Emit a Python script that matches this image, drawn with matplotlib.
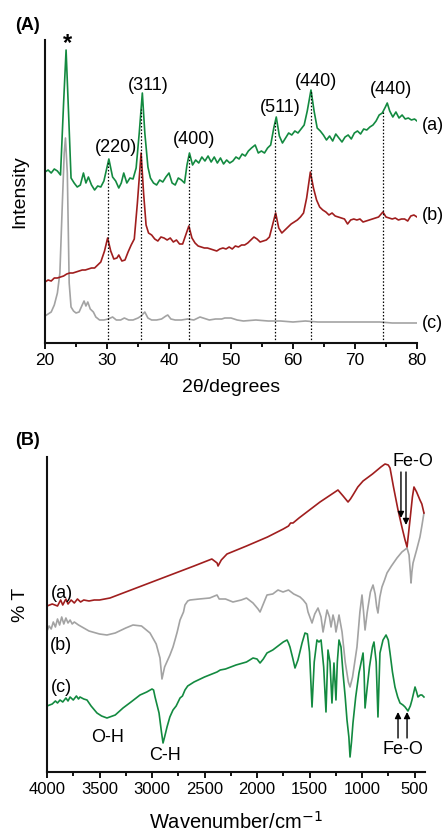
import matplotlib
matplotlib.use('Agg')
from matplotlib import pyplot as plt
from matplotlib.ticker import MultipleLocator
import numpy as np

plt.rcParams['font.family'] = ['Liberation Sans', 'DejaVu Sans']

# ---- (A) XRD data, 2theta (deg) vs intensity (a.u.) ----
xrd_a_theta = [20, 20.5, 21, 21.5, 22, 22.5, 23.0, 23.4, 23.8, 24.2, 24.7, 25.2, 25.7, 26.2, 26.6, 27.0,
               27.5, 28.0, 28.5, 29.0, 29.5, 30.3, 30.9, 31.4, 31.9, 32.3, 32.7, 33.2, 33.7, 34.2, 34.7,
               35.2, 35.7, 36.1, 36.6, 37.0, 37.5, 38.0, 38.5, 39.0, 39.5, 40.0, 40.5, 41.0, 41.5, 42.0,
               42.5, 42.9, 43.3, 43.8, 44.3, 44.8, 45.3, 45.8, 46.3, 46.8, 47.3, 47.8, 48.3, 48.8, 49.3,
               49.8, 50.3, 50.8, 51.3, 51.8, 52.3, 52.8, 53.3, 53.9, 54.4, 54.9, 55.4, 55.9, 56.4, 56.9,
               57.3, 57.8, 58.3, 58.8, 59.3, 59.8, 60.3, 60.8, 61.3, 61.8, 62.3, 62.9, 63.4, 63.9, 64.4,
               64.9, 65.4, 65.9, 66.4, 66.9, 67.4, 67.9, 68.4, 68.9, 69.4, 69.9, 70.4, 70.9, 71.4, 71.9,
               72.4, 72.9, 73.4, 73.9, 74.4, 74.9, 75.2, 75.6, 76.1, 76.6, 77.1, 77.6, 78.1, 78.6, 79.1,
               79.6, 80.0]
xrd_a_int = [171, 173, 170, 174, 172, 168, 240, 293, 230, 165, 160, 156, 158, 170, 160, 166,
             158, 153, 157, 156, 162, 184, 166, 162, 155, 160, 170, 160, 165, 164, 175,
             210, 250, 210, 176, 165, 160, 158, 163, 161, 166, 170, 160, 158, 165, 163,
             160, 178, 190, 178, 183, 180, 186, 182, 187, 181, 186, 180, 185, 179, 183,
             180, 182, 186, 184, 189, 187, 192, 195, 198, 190, 192, 190, 195, 198, 215,
             226, 207, 200, 205, 210, 208, 212, 210, 214, 218, 232, 253, 232, 215, 212,
             208, 203, 207, 202, 209, 205, 201, 206, 208, 204, 210, 212, 209, 214, 213,
             216, 218, 222, 228, 230, 236, 240, 232, 226, 231, 225, 228, 224, 225, 223,
             224, 222]

xrd_b_theta = [20, 20.5, 21, 21.5, 22, 22.5, 23, 23.5, 24, 24.5, 25, 25.5, 26, 26.5, 27, 27.5, 28,
               28.5, 29, 29.6, 30.1, 30.6, 31.1, 31.6, 31.9, 32.4, 32.9, 33.4, 33.9, 34.4, 34.9, 35.5,
               35.9, 36.3, 36.7, 37.2, 37.7, 38.2, 38.7, 39.2, 39.7, 40.2, 40.7, 41.2, 41.7, 42.2, 42.7,
               43.2, 43.7, 44.2, 44.7, 45.2, 45.7, 46.2, 46.7, 47.2, 47.7, 48.2, 48.7, 49.2, 49.7, 50.2,
               50.7, 51.2, 51.7, 52.2, 52.7, 53.2, 53.7, 54.2, 54.7, 55.2, 55.7, 56.2, 56.7, 57.2, 57.7,
               58.2, 58.7, 59.2, 59.7, 60.2, 60.7, 61.2, 61.7, 62.2, 62.8, 63.3, 63.8, 64.3, 64.8, 65.3,
               65.8, 66.3, 66.8, 67.3, 67.8, 68.3, 68.8, 69.3, 69.8, 70.3, 70.8, 71.3, 71.8, 72.3, 72.8,
               73.3, 73.8, 74.5, 75.0, 75.5, 76.0, 76.5, 77.0, 77.5, 78.0, 78.5, 79.0, 79.5, 80.0]
xrd_b_int = [61, 63, 62, 65, 65, 66, 67, 69, 70, 70, 71, 72, 73, 73, 74, 75, 75,
             78, 81, 92, 105, 92, 84, 85, 88, 82, 83, 91, 98, 104, 140, 190,
             150, 118, 110, 108, 104, 102, 106, 105, 103, 105, 101, 103, 99, 99, 108,
             117, 105, 100, 97, 96, 95, 95, 94, 93, 92, 94, 95, 94, 96, 94,
             97, 96, 98, 98, 100, 103, 106, 104, 101, 102, 103, 106, 118, 130, 115,
             110, 113, 116, 119, 121, 123, 126, 130, 145, 171, 155, 143, 136, 133, 131,
             128, 130, 127, 126, 125, 124, 119, 123, 124, 123, 124, 121, 122, 123, 124,
             125, 126, 131, 126, 125, 124, 125, 123, 124, 124, 122, 127, 128, 126]

xrd_c_theta = [20, 20.5, 21, 21.5, 22, 22.4, 22.8, 23.1, 23.3, 23.6, 23.9, 24.2, 24.6, 25.0, 25.5,
               26.0, 26.3, 26.6, 26.9, 27.3, 27.8, 28.2, 28.8, 29.5, 30.2, 30.9, 31.5, 32.2, 32.8,
               33.5, 34.2, 35.0, 35.5, 36.1, 36.6, 37.2, 38.0, 38.8, 39.5, 39.8, 40.3, 41.0, 42.0,
               43.0, 44.0, 45.0, 45.5, 46.5, 47.5, 48.5, 49.0, 50.0, 51.0, 52.0, 54.0, 56.0, 58.0,
               60.0, 62.0, 64.0, 66.0, 68.0, 70.0, 72.0, 74.0, 76.0, 78.0, 80.0]
xrd_c_int = [27, 29, 31, 38, 50, 70, 140, 190, 205, 170, 60, 36, 32, 30, 31,
             38, 42, 37, 41, 34, 31, 26, 23, 23, 24, 26, 23, 23, 25,
             23, 23, 25, 27, 31, 25, 23, 23, 24, 27, 28, 24, 23, 23,
             24, 23, 26, 25, 23, 24, 24, 25, 25, 23, 22, 23, 22, 22,
             21, 22, 21, 21, 21, 21, 21, 21, 20, 20, 20]

hkl_pos = [30.2, 35.5, 43.2, 57.1, 62.9, 74.5]
hkl_labels = ['(220)', '(311)', '(400)', '(511)', '(440)', '(440)']

# ---- (B) FTIR data, wavenumber (cm-1) vs %T (offset) ----
ir_a_wn = [4000, 3950, 3900, 3870, 3850, 3820, 3800, 3770, 3740, 3710, 3680, 3650, 3600, 3550, 3500,
           3450, 3400, 3200, 3000, 2800, 2600, 2430, 2380, 2371, 2340, 2286, 2100, 1900, 1750, 1700,
           1680, 1657, 1600, 1500, 1400, 1300, 1229, 1180, 1133, 1110, 1086, 1040, 990, 900, 820,
           781, 750, 733, 700, 657, 620, 590, 571, 545, 520, 505, 480, 460, 448, 430, 410]
ir_a_t = [166, 168, 166, 172, 167, 173, 168, 172, 169, 173, 170, 172, 171, 172, 172,
          173, 174, 182, 190, 198, 206, 213, 209, 206, 212, 218, 226, 235, 243, 246,
          249, 249, 254, 262, 270, 277, 282, 276, 270, 273, 277, 285, 291, 298, 305,
          308, 307, 304, 285, 262, 245, 232, 225, 250, 275, 285, 280, 275, 272, 268, 259]

ir_b_wn = [4000, 3980, 3960, 3940, 3920, 3900, 3880, 3860, 3840, 3820, 3800, 3780, 3760, 3740, 3700,
           3650, 3600, 3500, 3429, 3350, 3250, 3181, 3100, 3019, 2960, 2924, 2905, 2880, 2829, 2800,
           2781, 2760, 2733, 2700, 2686, 2660, 2638, 2550, 2450, 2381, 2360, 2300, 2229, 2150, 2100,
           2038, 1990, 1971, 1940, 1905, 1850, 1800, 1752, 1700, 1650, 1590, 1560, 1530, 1514, 1476,
           1450, 1419, 1390, 1371, 1350, 1333, 1310, 1295, 1276, 1260, 1248, 1230, 1219, 1190, 1160,
           1130, 1114, 1090, 1048, 1020, 1000, 985, 971, 950, 920, 895, 875, 860, 848, 830,
           810, 785, 762, 720, 667, 620, 571, 552, 540, 533, 525, 514, 480, 448, 430, 410]
ir_b_t = [141, 146, 143, 150, 145, 153, 147, 155, 148, 154, 149, 152, 148, 150, 147,
          144, 141, 138, 137, 139, 144, 147, 146, 139, 128, 114, 93, 105, 117, 125,
          132, 140, 152, 160, 167, 171, 172, 173, 174, 177, 173, 173, 170, 172, 174,
          169, 163, 160, 168, 177, 178, 182, 180, 182, 178, 175, 172, 168, 160, 149,
          158, 164, 155, 140, 152, 162, 155, 145, 157, 150, 140, 150, 157, 140, 110,
          90, 85, 95, 125, 160, 177, 160, 142, 160, 180, 187, 178, 165, 159, 175,
          185, 192, 199, 206, 214, 220, 224, 217, 200, 189, 200, 209, 222, 235, 246, 259]

ir_c_wn = [4000, 3950, 3920, 3900, 3876, 3850, 3820, 3800, 3780, 3750, 3720, 3700, 3686, 3650, 3619,
           3580, 3524, 3480, 3429, 3350, 3276, 3200, 3114, 3050, 3000, 2985, 2971, 2933, 2910, 2895,
           2880, 2857, 2830, 2800, 2770, 2733, 2710, 2686, 2660, 2600, 2500, 2381, 2350, 2300, 2200,
           2100, 2038, 2000, 1971, 1940, 1905, 1850, 1800, 1750, 1714, 1700, 1686, 1660, 1638, 1610,
           1571, 1543, 1520, 1500, 1476, 1455, 1429, 1410, 1390, 1365, 1343, 1324, 1305, 1286, 1267,
           1248, 1235, 1219, 1200, 1181, 1160, 1143, 1125, 1114, 1100, 1086, 1060, 1029, 990, 980,
           971, 950, 929, 900, 886, 865, 848, 829, 800, 771, 750, 733, 710, 686, 660,
           638, 610, 590, 562, 540, 524, 495, 480, 467, 445, 429, 410]
ir_c_t = [66, 68, 71, 69, 72, 70, 74, 71, 75, 72, 76, 73, 75, 73, 72,
          66, 59, 56, 54, 57, 64, 70, 77, 80, 83, 82, 75, 59, 40, 29,
          35, 45, 55, 62, 66, 74, 76, 82, 86, 90, 95, 100, 102, 103, 107,
          110, 114, 113, 109, 113, 119, 122, 126, 130, 132, 129, 125, 114, 104, 112,
          129, 139, 138, 120, 65, 110, 132, 130, 132, 105, 60, 122, 110, 69, 109,
          72, 110, 132, 125, 99, 75, 52, 35, 15, 30, 49, 75, 99, 119, 100,
          64, 85, 105, 125, 130, 110, 55, 119, 132, 137, 132, 119, 100, 85, 75,
          69, 67, 65, 61, 66, 72, 85, 80, 75, 77, 77, 75]

green = '#138a40'
red = '#a01e1e'
grey = '#a3a3a3'


def style_axis(ax, tsize):
    for s in ['top', 'right']:
        ax.spines[s].set_visible(False)
    for s in ['left', 'bottom']:
        ax.spines[s].set_linewidth(1.5)
        ax.spines[s].set_color('#111111')
    ax.set_yticks([])
    ax.tick_params(axis='x', which='major', direction='out', length=4, width=1.3, labelsize=tsize, pad=3)
    ax.tick_params(axis='x', which='minor', direction='out', length=3, width=1.3)


fig = plt.figure(figsize=(4.46, 8.35), dpi=100)

# ---------------- panel A ----------------
ax1 = fig.add_axes([45/446, 1-343/835, 372/446, 303/835])
ax1.plot(xrd_c_theta, xrd_c_int, color=grey, lw=1.2)
ax1.plot(xrd_b_theta, xrd_b_int, color=red, lw=1.2)
ax1.plot(xrd_a_theta, xrd_a_int, color=green, lw=1.2)

tops = np.interp(hkl_pos, xrd_a_theta, xrd_a_int)
for p, t in zip(hkl_pos, tops):
    ax1.plot([p, p], [0, t], color='black', ls=(0, (1.2, 1.5)), lw=0.9)

lab_xy = [(31.4, 196), (36.6, 257), (44.0, 204), (58.0, 236), (63.7, 261), (75.8, 253)]
for lab, (lx, ly) in zip(hkl_labels, lab_xy):
    ax1.text(lx, ly, lab, ha='center', va='center', fontsize=13)
ax1.text(23.7, 299, '*', ha='center', va='center', fontsize=17, fontweight='bold')
ax1.text(80.8, 217, '(a)', ha='left', va='center', fontsize=13, clip_on=False)
ax1.text(80.8, 128, '(b)', ha='left', va='center', fontsize=13, clip_on=False)
ax1.text(80.8, 19, '(c)', ha='left', va='center', fontsize=13, clip_on=False)

ax1.set_xlim(20, 80)
ax1.set_ylim(0, 303)
ax1.xaxis.set_major_locator(MultipleLocator(10))
ax1.xaxis.set_minor_locator(MultipleLocator(5))
style_axis(ax1, 12.5)
ax1.set_xlabel('2θ/degrees', fontsize=14)
ax1.xaxis.set_label_coords(0.5, -0.12)
ax1.set_ylabel('Intensity', fontsize=14)
ax1.yaxis.set_label_coords(-0.045, 0.5)

# ---------------- panel B ----------------
ax2 = fig.add_axes([47/446, 1-772/835, 378/446, 315/835])
ax2.plot(ir_b_wn, ir_b_t, color=grey, lw=1.2)
ax2.plot(ir_a_wn, ir_a_t, color=red, lw=1.2)
ax2.plot(ir_c_wn, ir_c_t, color=green, lw=1.2)

ax2.text(3857, 179, '(a)', ha='center', va='center', fontsize=13)
ax2.text(3867, 127, '(b)', ha='center', va='center', fontsize=13)
ax2.text(3867, 85, '(c)', ha='center', va='center', fontsize=13)
ax2.text(3419, 35, 'O-H', ha='center', va='center', fontsize=13)
ax2.text(2876, 17, 'C-H', ha='center', va='center', fontsize=13)
ax2.text(609, 22, 'Fe-O', ha='center', va='center', fontsize=13)
ax2.text(514, 310, 'Fe-O', ha='center', va='center', fontsize=13, clip_on=False)

arrow = dict(arrowstyle='-|>', color='black', lw=1.0, mutation_scale=9, shrinkA=0, shrinkB=0)
ax2.annotate('', xy=(629, 254), xytext=(629, 300), arrowprops=arrow)
ax2.annotate('', xy=(581, 247), xytext=(581, 300), arrowprops=arrow)
ax2.annotate('', xy=(657, 60), xytext=(657, 34), arrowprops=arrow)
ax2.annotate('', xy=(571, 60), xytext=(571, 34), arrowprops=arrow)

ax2.set_xlim(4000, 400)
ax2.set_ylim(0, 315)
ax2.xaxis.set_major_locator(MultipleLocator(500))
ax2.xaxis.set_minor_locator(MultipleLocator(250))
style_axis(ax2, 12)
ax2.set_xlabel('Wavenumber/cm$^{-1}$', fontsize=14.5)
ax2.xaxis.set_label_coords(0.5, -0.125)
ax2.set_ylabel('% T', fontsize=14)
ax2.yaxis.set_label_coords(-0.048, 0.53)

fig.text(28/446, 1-25/835, '(A)', ha='center', va='center', fontsize=13, fontweight='bold')
fig.text(27/446, 1-440/835, '(B)', ha='center', va='center', fontsize=13, fontweight='bold')

fig.savefig('out.png', dpi=100)
